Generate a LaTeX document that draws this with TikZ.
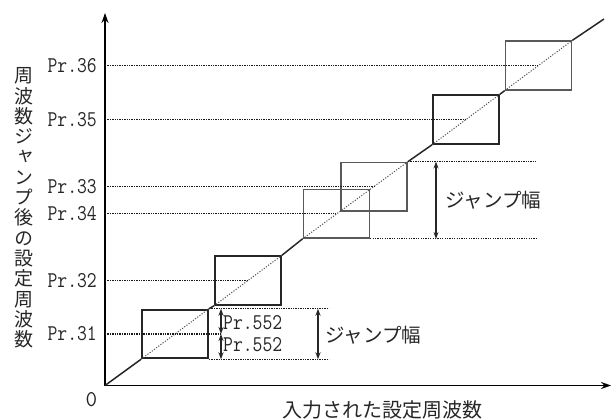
\documentclass[tikz,border=0pt]{standalone}
\usepackage{fontspec}
\usepackage{graphicx}
\usetikzlibrary{arrows.meta}
\newfontfamily\jpfont{Noto Sans CJK JP}
\newfontfamily\jpvfont[RawFeature=+vert]{Noto Sans CJK JP}
\newcommand{\prtext}[1]{\scalebox{0.85}[1]{#1}}

\begin{document}
\begin{tikzpicture}[x=1pt,y=-1pt]
				\tikzstyle{axis}=[line width=1.9pt,{Stealth[length=10pt,width=7pt]}-{Stealth[length=10pt,width=7pt]}]
				\tikzstyle{guide}=[line width=1.2pt,dash pattern=on 1.3pt off 1.1pt,black!90]
				\tikzstyle{slope}=[line width=1.5pt,black!85]
				\tikzstyle{slopedots}=[line width=1pt,dash pattern=on 1.1pt off 1.6pt,black!70]
				\tikzstyle{jumpbox}=[draw,line width=2pt,black!85,minimum width=66pt,minimum height=48.6pt,inner sep=0pt]
				\tikzstyle{palebox}=[jumpbox,draw=black!65,line width=1.6pt]
				\tikzstyle{prlabel}=[font=\ttfamily\fontsize{22.5}{22.5}\selectfont,text=black!85,inner sep=0pt,anchor=east,xshift=-8pt]
				\tikzstyle{jplabel}=[font=\jpfont\fontsize{19.5}{19.5}\selectfont,text=black!85,inner sep=0pt]
				\tikzstyle{spanarrow}=[line width=1.2pt,black!85,{Stealth[length=7pt,width=5pt]}-{Stealth[length=7pt,width=5pt]}]
				
				\useasboundingbox (0,0) rectangle (611,419);
				
				\coordinate (O) at (105,385.5);
				\coordinate (ytop) at (105,13);
				\coordinate (xend) at (611,385.5);
				\coordinate (dend) at (604,19);
				
				\node[jumpbox] (b31) at (175,334) {};
				\node[jumpbox] (b32) at (248,280.5) {};
				\node[palebox] (b34) at (336.3,213.8) {};
				\node[palebox] (b33) at (374.2,186.7) {};
				\node[jumpbox] (b35) at (466,119.5) {};
				\node[palebox] (b36) at (538.5,65.5) {};
				
				\draw[axis] (ytop) -- (O) -- (xend);
				
				\draw[slope] (O) -- (b31.south west)
					(b31.north east) -- (b32.south west)
					(b32.north east) -- (b34.south west)
					(b33.north east) -- (b35.south west)
					(b35.north east) -- (b36.south west)
					(b36.north east) -- (dend);
				\draw[slopedots] (b31.south west) -- (b31.north east)
					(b32.south west) -- (b32.north east)
					(b34.south west) -- (b33.north east)
					(b35.south west) -- (b35.north east)
					(b36.south west) -- (b36.north east);
				
				\draw[guide] (O |- b31) -- ([xshift=12pt]b31.east);
				\draw[guide] (O |- b32) -- (b32.center);
				\draw[guide] (O |- b34) -- (b34.center);
				\draw[guide] (O |- b33) -- (b33.center);
				\draw[guide] (O |- b35) -- (b35.center);
				\draw[guide] (O |- b36) -- (b36.center);
				
				\node[prlabel] (l31) at (O |- b31) {\prtext{Pr.31}};
				\node[prlabel] (l32) at (O |- b32) {\prtext{Pr.32}};
				\node[prlabel] (l34) at (O |- b34) {\prtext{Pr.34}};
				\node[prlabel] (l33) at (O |- b33) {\prtext{Pr.33}};
				\node[prlabel] (l35) at (O |- b35) {\prtext{Pr.35}};
				\node[prlabel] (l36) at (O |- b36) {\prtext{Pr.36}};
				
				\draw[guide] (b31.north east) -- ++(120,0);
				\draw[guide] (b31.south east) -- ++(120,0);
				\draw[spanarrow] ([xshift=12pt]b31.north east) -- ([xshift=12pt]b31.east);
				\draw[spanarrow] ([xshift=12pt]b31.east) -- ([xshift=12pt]b31.south east);
				\draw[spanarrow] ([xshift=109pt]b31.north east) -- ([xshift=109pt]b31.south east);
				\node[prlabel,anchor=west,xshift=0pt] (w552a) at (231,322.5) {\prtext{Pr.552}};
				\node[prlabel,anchor=west,xshift=0pt] (w552b) at (231,345) {\prtext{Pr.552}};
				\node[jplabel,anchor=west] (jump1) at (325,335) {ジャンプ幅};
				
				\draw[guide] (b33.north east) -- ++(128,0);
				\draw[guide] (b34.south east) -- ++(166,0);
				\draw[spanarrow] ([xshift=28pt]b33.north east) -- ([xshift=28pt]b33.north east |- b34.south east);
				\node[jplabel,anchor=west] (jump2) at (445,200) {ジャンプ幅};
				
				\node[font=\ttfamily\fontsize{22.5}{22.5}\selectfont,text=black!85,inner sep=0pt] (zero) at (91.5,400) {0};
				\node[jplabel,font=\jpfont\fontsize{20}{20}\selectfont] (xlabel) at (382,410) {入力された設定周波数};
				\node[jplabel,align=center,font=\jpvfont\fontsize{19}{20.3}\selectfont] (ylabel) at (24,208)
					{周\\波\\数\\ジ\\ャ\\ン\\プ\\後\\の\\設\\定\\周\\波\\数};
				
\end{tikzpicture}
\end{document}
